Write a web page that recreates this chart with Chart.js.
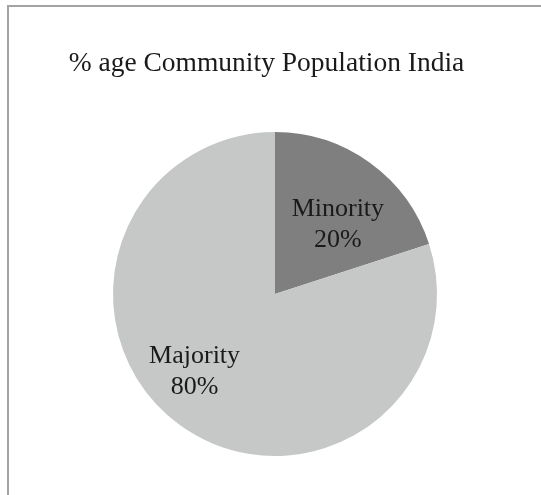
<!DOCTYPE html>
<html>
<head>
<meta charset="utf-8">
<script src="https://cdn.jsdelivr.net/npm/chart.js@4/dist/chart.umd.min.js"></script>
<style>
    body { margin: 0; background: #fff; }
    .wrap { position: relative; width: 541px; height: 495px; overflow: hidden; }
    .frame {
        position: absolute; left: 7px; top: 5px; width: 600px; height: 600px;
        border-left: 2px solid #a3a3a3; border-top: 2px solid #a3a3a3;
    }
    canvas { position: absolute; left: 0; top: 0; }
</style>
</head>
<body>
<div class="wrap">
    <div class="frame"></div>
    <canvas id="pieChart" width="541" height="495"></canvas>
</div>
<script>
// chart data
const titleText = '% age Community Population India';
const categories = ['Minority', 'Majority'];
const shares = [20, 80];
const sliceColors = ['#7f7f7f', '#c6c7c7'];

const serif = '"Liberation Serif", "DejaVu Serif", serif';

// title sits a bit left of the pie centre, so it's drawn by hand
// (the built-in title also squeezes text into the padded width)
const chartTitle = {
    id: 'chartTitle',
    afterDraw(chart, args, opts) {
        const ctx = chart.ctx;
        ctx.save();
        ctx.font = opts.size + 'px ' + serif;
        ctx.fillStyle = '#1a1a1a';
        ctx.textAlign = 'center';
        ctx.textBaseline = 'alphabetic';
        ctx.fillText(titleText, opts.x, opts.y);
        ctx.restore();
    }
};

// draws "Name\nNN%" inside each slice
const sliceLabels = {
    id: 'sliceLabels',
    afterDatasetsDraw(chart, args, opts) {
        const ctx = chart.ctx;
        const meta = chart.getDatasetMeta(0);
        const total = shares.reduce((a, b) => a + b, 0);
        ctx.save();
        ctx.font = '26px ' + serif;
        ctx.fillStyle = '#1a1a1a';
        ctx.textAlign = 'center';
        ctx.textBaseline = 'middle';
        meta.data.forEach((arc, i) => {
            const p = opts.place[i];
            const mid = (arc.startAngle + arc.endAngle) / 2 + p.shift * Math.PI / 180;
            const r = arc.outerRadius * p.radius;
            const x = arc.x + Math.cos(mid) * r;
            const y = arc.y + Math.sin(mid) * r;
            const pct = Math.round(shares[i] / total * 100) + '%';
            ctx.fillText(categories[i], x, y - 15);
            ctx.fillText(pct, x, y + 16);
        });
        ctx.restore();
    }
};

const ctx = document.getElementById('pieChart').getContext('2d');
new Chart(ctx, {
    type: 'pie',
    data: {
        labels: categories,
        datasets: [{
            data: shares,
            backgroundColor: sliceColors,
            borderWidth: 0
        }]
    },
    options: {
        responsive: false,
        animation: false,
        layout: {
            padding: { left: 113, right: 104, top: 132, bottom: 39 }
        },
        plugins: {
            legend: { display: false },
            tooltip: { enabled: false },
            title: { display: false },
            chartTitle: { x: 266.5, y: 71, size: 27.5 },
            sliceLabels: {
                place: [
                    { radius: 0.58, shift: 6 },
                    { radius: 0.69, shift: 10 }
                ]
            }
        }
    },
    plugins: [sliceLabels, chartTitle]
});
</script>
</body>
</html>
